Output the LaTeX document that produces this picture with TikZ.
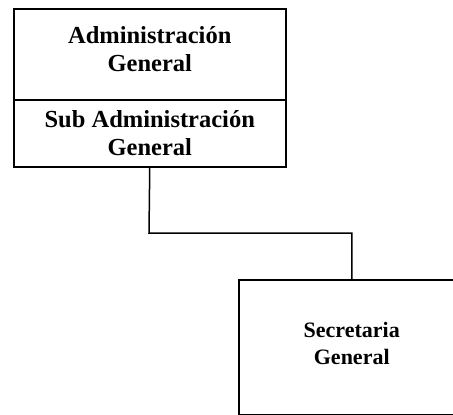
\documentclass[tikz,border=0pt]{standalone}
\usepackage{fontspec}
\setmainfont{Liberation Serif}
\begin{document}
\begin{tikzpicture}[x=1pt,y=-1pt,
  box/.style={draw, line width=1.5pt, rectangle, inner sep=0pt, align=center, font=\bfseries\fontsize{24.5}{28}\selectfont},
  link/.style={draw, line width=1.5pt}]
\useasboundingbox (0,0) rectangle (453,415);
\node[box, minimum width=272pt, minimum height=91pt, anchor=north west, text depth=10.5pt] (adm) at (13,8) {Administración\\General};
\node[box, minimum width=272pt, minimum height=67pt, anchor=north west] (sub) at (13,99) {Sub Administración\\General};
\node[box, minimum width=226pt, minimum height=135pt, anchor=north west, text depth=8pt, font=\bfseries\fontsize{22}{26.6}\selectfont] (sec) at (238,279) {Secretaria\\General};
\coordinate (bend) at (149,233);
\draw[link] (sub.south) -- (bend) -| (sec.north);
\end{tikzpicture}
\end{document}
